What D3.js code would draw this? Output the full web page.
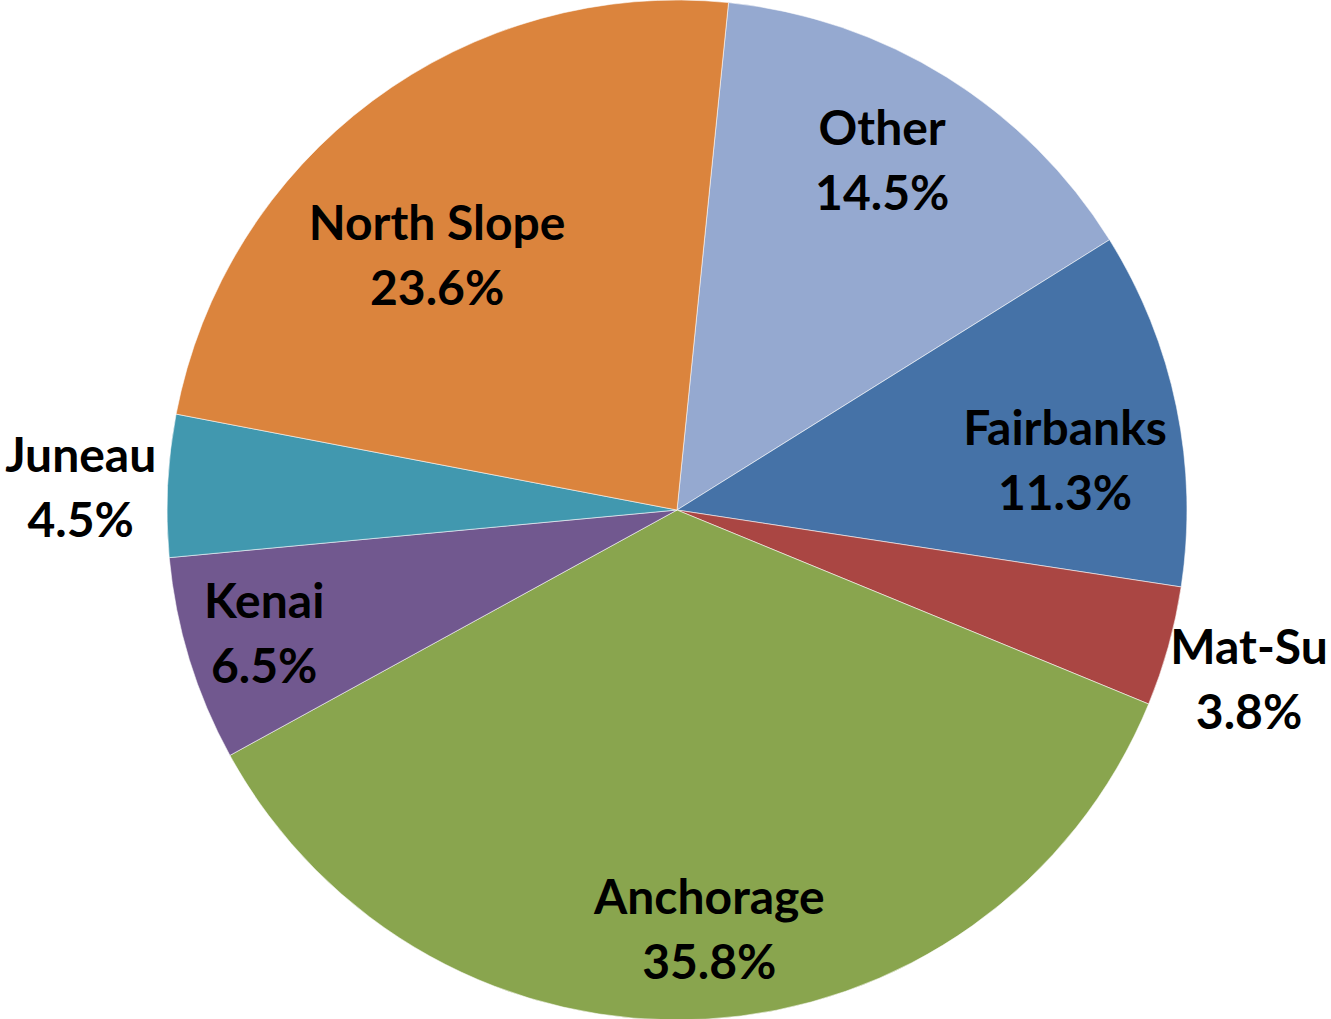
<!DOCTYPE html>
<html>
<head>
<meta charset="utf-8">
<script src="https://cdn.jsdelivr.net/npm/d3@7"></script>
<style>
	body { margin: 0; background: #fff; }
	svg { display: block; }
</style>
</head>
<body>
<script>
//chart data
var categories = ["Other", "Fairbanks", "Mat-Su", "Anchorage", "Kenai", "Juneau", "North Slope"];
var shares = [14.5, 11.3, 3.8, 35.8, 6.5, 4.5, 23.6];
var labels = ["14.5%", "11.3%", "3.8%", "35.8%", "6.5%", "4.5%", "23.6%"];

//slice colours (Excel 2007 palette)
var colors = ["#95a9d0", "#4572a7", "#aa4643", "#89a54e", "#71588f", "#4198af", "#db843d"];

//label placement: radius factor and angle shift (degrees) per slice, like excel "best fit"
var labelFit = {
	"Other":       { k: 0.795, da: -1.5 },
	"Fairbanks":   { k: 0.767, da: 4.4 },
	"Mat-Su":      { k: 1.17,  da: 1.0 },
	"Anchorage":   { k: 0.826, da: -1.2 },
	"Kenai":       { k: 0.845, da: 0.4 },
	"Juneau":      { k: 1.17,  da: -0.6 },
	"North Slope": { k: 0.686, da: -6.6 }
};

var width = 1331;
var height = 1019;
var cx = 677, cy = 510;
var radius = 510;
var startDeg = 5.8;

var toRad = Math.PI / 180;

var data = categories.map(function(c, i) {
	return { name: c, value: shares[i], label: labels[i], color: colors[i] };
});

var pie = d3.pie()
	.sort(null)
	.value(function(d) { return d.value; })
	.startAngle(startDeg * toRad)
	.endAngle(startDeg * toRad + 2 * Math.PI);

var arc = d3.arc()
	.innerRadius(0)
	.outerRadius(radius);

var svg = d3.select("body")
	.append("svg")
	.attr("width", width)
	.attr("height", height);

var g = svg.append("g")
	.attr("transform", "translate(" + cx + "," + cy + ")");

//slices
g.selectAll("path.slice")
	.data(pie(data))
	.enter()
		.append("path")
		.attr("class", "slice")
		.attr("d", arc)
		.attr("fill", function(d) { return d.data.color; })
		.attr("stroke", "rgba(255,255,255,0.55)")
		.attr("stroke-width", 1);

//labels
var fontSize = 48;
var lineGap = 65;

var lbl = g.selectAll("g.lbl")
	.data(pie(data))
	.enter()
		.append("g")
		.attr("class", "lbl")
		.attr("transform", function(d) {
			var fit = labelFit[d.data.name];
			var a = (d.startAngle + d.endAngle) / 2 + fit.da * toRad;
			var r = radius * fit.k;
			return "translate(" + (Math.sin(a) * r) + "," + (-Math.cos(a) * r) + ")";
		});

lbl.append("text")
	.attr("text-anchor", "middle")
	.attr("y", -lineGap / 2)
	.attr("dy", "0.35em")
	.style("font-family", "Lato, 'Open Sans', sans-serif")
	.style("font-weight", "bold")
	.style("font-size", fontSize + "px")
	.attr("fill", "#000")
	.text(function(d) { return d.data.name; });

lbl.append("text")
	.attr("text-anchor", "middle")
	.attr("y", lineGap / 2)
	.attr("dy", "0.35em")
	.style("font-family", "Lato, 'Open Sans', sans-serif")
	.style("font-weight", "bold")
	.style("font-size", fontSize + "px")
	.attr("fill", "#000")
	.text(function(d) { return d.data.label; });
</script>
</body>
</html>
